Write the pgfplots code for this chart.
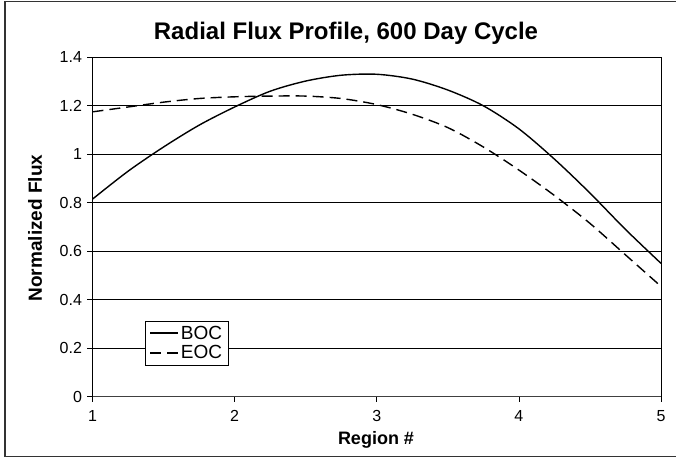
\documentclass[border=0pt]{standalone}
\usepackage{pgfplots}
\pgfplotsset{compat=1.18}
\usepackage{fontspec}
\setmainfont{Liberation Sans}
\begin{document}
\begin{tikzpicture}[x=1pt,y=1pt]
\useasboundingbox (0,0) rectangle (676,458);
\draw[black!80, line width=1.2pt] (678,456.5) -- (5,456.5) -- (5,1.2) -- (678,1.2);
\begin{axis}[
  at={(92.5pt,61.3pt)}, anchor=south west,
  scale only axis, width=568.5pt, height=339.4pt,
  xmin=1, xmax=5, ymin=0, ymax=1.4,
  xtick={1,2,3,4,5}, ytick={0,0.2,0.4,0.6,0.8,1,1.2,1.4},
  ymajorgrids, major grid style={black, line width=0.6pt},
  axis line style={black, line width=0.9pt},
  tick style={black, line width=0.7pt},
  tick align=outside, major tick length=5pt,
  xtick pos=bottom, ytick pos=left,
  /pgf/number format/assume math mode=true,
  /pgf/number format/fixed,
  ticklabel style={font=\fontsize{16}{18}\selectfont},
  xticklabel style={yshift=-5pt},
  yticklabel style={xshift=-2pt},
  legend style={at={(0.093,0.092)}, anchor=south west, draw=black, fill=white,
    font=\fontsize{19}{21}\selectfont, inner xsep=4pt, inner ysep=3pt, row sep=1pt,
    cells={anchor=west}},
  legend cell align=left,
  legend image code/.code={\draw[#1] (0pt,0pt) -- (28pt,0pt);},
]
\draw[black!75, line width=1.6pt] (axis cs:1,0) -- (axis cs:5,0);
\addplot[black, line width=1.4pt, smooth] coordinates {
(1,0.815) (1.25,0.93) (1.5,1.03) (1.75,1.12) (2,1.195) (2.25,1.26) (2.5,1.302)
(2.75,1.326) (3,1.33) (3.25,1.31) (3.5,1.265) (3.75,1.2) (4,1.105) (4.25,0.98)
(4.5,0.84) (4.75,0.69) (5,0.55)};
\addlegendentry{BOC}
\addplot[black, line width=1.4pt, smooth, dash pattern=on 11pt off 6pt] coordinates {
(1,1.175) (1.25,1.195) (1.5,1.215) (1.75,1.23) (2,1.237) (2.25,1.24) (2.5,1.24)
(2.75,1.23) (3,1.205) (3.25,1.165) (3.5,1.11) (3.75,1.03) (4,0.935) (4.25,0.83)
(4.5,0.715) (4.75,0.585) (5,0.455)};
\addlegendentry{EOC}
\end{axis}
\node[font=\fontsize{24}{28}\selectfont\bfseries] at (346,425) {Radial Flux Profile, 600 Day Cycle};
\node[font=\fontsize{19}{22}\selectfont\bfseries, rotate=90] at (35,230) {Normalized Flux};
\node[font=\fontsize{18}{21}\selectfont\bfseries] at (376,18) {Region \#};
\end{tikzpicture}
\end{document}
